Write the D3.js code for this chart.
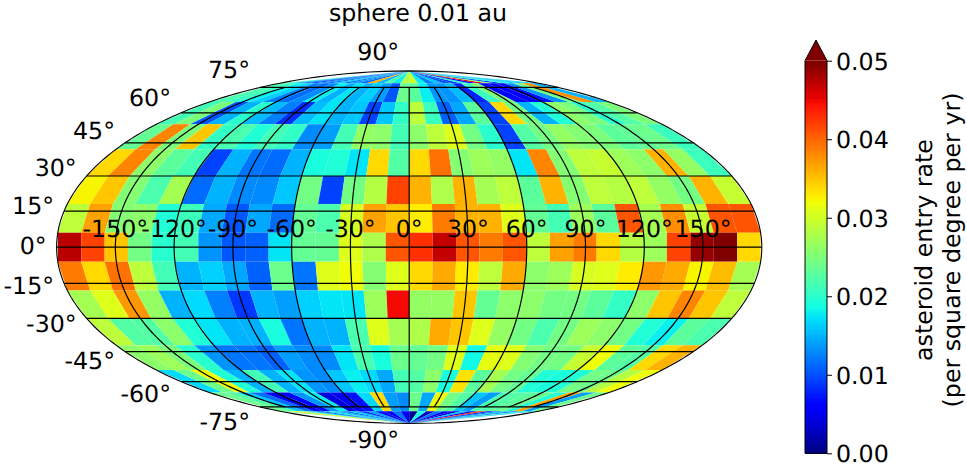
<!DOCTYPE html>
<html><head><meta charset="utf-8">
<script src="https://cdn.jsdelivr.net/npm/d3@7/dist/d3.min.js"></script>
<style>html,body{margin:0;padding:0;background:#fff}svg{display:block}text{font-family:"DejaVu Sans";fill:#000;text-rendering:geometricPrecision}</style>
</head><body><svg id="c" width="967" height="466"></svg>
<script>
const titleText = "sphere 0.01 au";
const cbarLines = ["asteroid entry rate", "(per square degree per yr)"];
const lonEdges = d3.range(-180, 181, 12);
const latEdges = d3.range(90, -91, -12);
const lonTicks = [-150,-120,-90,-60,-30,0,30,60,90,120,150];
const latTicks = [90,75,60,45,30,15,0,-15,-30,-45,-60,-75,-90];
const cbarTicks = [0,0.01,0.02,0.03,0.04,0.05];
const rowN84 = [.022,.016,.012,.009,.014,.011,.017,.012,.014,.011,.036,.015,.022,.018,.028, .03,.018,.0125,.016,.01,.0095,.02,.006,.045,.025,.008,.019,.017,.015,.017];
const rowN72 = [.022,.021,.018,.0165,.0125,.0115,.013,.018,.015,.0175,.015,.0165,.014,.0105,.024, .023,.018,.0135,.0135,.0155,.008,.021,.025,.006,.006,.007,.0135,.0245,.038,.015];
const rowN60 = [.0215,.025,.0105,.015,.02,.0155,.0125,.0085,.0155,.0175,.015,.016,.0095,.016,.0205, .029,.021,.011,.0145,.023,.0095,.034,.0245,.015,.0195,.026,.025,.02,.0225,.025];
const rowN48 = [.0235,.0385,.025,.035,.0205,.022,.0195,.0215,.0205,.013,.014,.0215,.0265,.026,.0215, .026,.029,.031,.0245,.02,.0095,.0225,.0245,.0265,.0255,.025,.023,.0235,.024,.021];
const rowN36 = [.034,.0385,.026,.023,.0215,.0095,.015,.012,.0115,.015,.019,.0195,.0175,.034,.0225, .034,.0395,.0255,.027,.0265,.0175,.0385,.0255,.029,.0295,.027,.026,.036,.0265,.021];
const rowN24 = [.0325,.035,.0255,.022,.0275,.0115,.015,.013,.013,.016,.0245,.0095,.0245,.0285,.042, .036,.028,.036,.0275,.029,.023,.036,.0255,.029,.0285,.029,.0265,.0245,.036,.0295];
const rowN12 = [.029,.037,.0255,.026,.0195,.021,.0145,.0105,.0145,.0115,.0235,.022,.0305,.037,.035, .033,.039,.036,.036,.031,.0235,.0215,.027,.023,.041,.0275,.038,.0295,.041,.041];
const rowE00 = [.0475,.042,.035,.0245,.02,.0215,.0135,.0105,.011,.0175,.0235,.0235,.031,.028,.041, .043,.047,.041,.039,.041,.029,.037,.039,.034,.0285,.027,.042,.049,.0505,.034];
const rowS12 = [.039,.034,.0395,.029,.0215,.015,.0165,.0145,.011,.024,.012,.031,.032,.0255,.031, .034,.0365,.033,.029,.0365,.026,.027,.0305,.031,.033,.0375,.0365,.0325,.0355,.0275];
const rowS24 = [.0275,.031,.0375,.0265,.015,.017,.0125,.009,.015,.014,.0165,.0175,.0175,.027,.045, .0265,.0265,.035,.0235,.026,.026,.0245,.0245,.023,.0205,.026,.035,.0385,.035,.029];
const rowS36 = [.029,.0225,.0225,.026,.0195,.0175,.015,.015,.019,.012,.015,.015,.022,.031,.0275, .028,.0365,.035,.031,.0265,.0245,.022,.0245,.027,.026,.0245,.0195,.018,.023,.022];
const rowS48 = [.026,.027,.025,.02,.0135,.012,.012,.011,.014,.013,.013,.0175,.022,.019,.024, .0235,.0245,.031,.0185,.0315,.031,.0255,.0245,.0245,.0295,.032,.023,.0225,.034,.036];
const rowS60 = [.017,.024,.032,.0195,.015,.0215,.015,.0175,.0135,.013,.016,.018,.017,.0145,.0215, .0225,.026,.019,.0335,.023,.0275,.0245,.0235,.0195,.019,.0195,.0245,.024,.0285,.032];
const rowS72 = [.024,.0225,.016,.0115,.005,.0055,.0135,.018,.004,.005,.007,.017,.034,.014,.013, .024,.0145,.032,.0245,.0225,.016,.014,.022,.0225,.023,.024,.0195,.037,.014,.024];
const rowS84 = [.024,.033,.025,.016,.011,.018,.015,.012,.016,.009,.014,.006,.0055,.012,.005, .001,.019,.003,.012,.006,.004,.016,.006,.042,.008,.012,.017,.012,.02,.016];
const rows = [rowN84,rowN72,rowN60,rowN48,rowN36,rowN24,rowN12,rowE00,rowS12,rowS24,rowS36,rowS48,rowS60,rowS72,rowS84];

const svg = d3.select("#c");
const FS = 23.7, CX = 409.2, CY = 247.2, RX = 352.6;

// Mollweide, built on d3.geoProjection
function mollweideRaw(l, p){
  let t = p;
  if (Math.abs(Math.abs(p) - Math.PI/2) < 1e-9) t = p;
  else for (let i=0;i<60;i++){
    const d = (2*t + Math.sin(2*t) - Math.PI*Math.sin(p)) / (2 + 2*Math.cos(2*t));
    t -= d; if (Math.abs(d) < 1e-10) break;
  }
  return [2*Math.SQRT2/Math.PI * l * Math.cos(t), Math.SQRT2 * Math.sin(t)];
}
const proj = d3.geoProjection(mollweideRaw).scale(RX/(2*Math.SQRT2)).translate([CX,CY]).precision(0.1);

// jet colormap
const rCh = d3.scaleLinear().domain([0,.35,.66,.89,1]).range([0,0,1,1,.5]);
const gCh = d3.scaleLinear().domain([0,.125,.375,.64,.91,1]).range([0,0,1,1,0,0]);
const bCh = d3.scaleLinear().domain([0,.11,.34,.65,1]).range([.5,1,1,0,0]);
const norm = d3.scaleLinear().domain([0,0.05]).range([0,1]).clamp(true);
const jet = t => d3.rgb(rCh(t)*255, gCh(t)*255, bCh(t)*255).formatHex();
const color = v => jet(norm(v));

// cells: straight quads between projected corners
const cells = [];
rows.forEach((r,i)=>r.forEach((v,j)=>cells.push({i,j,v})));
const line = d3.line();
svg.append("g").selectAll("path").data(cells).join("path")
  .attr("d", d => line([
      proj([lonEdges[d.j],  latEdges[d.i]]),
      proj([lonEdges[d.j+1],latEdges[d.i]]),
      proj([lonEdges[d.j+1],latEdges[d.i+1]]),
      proj([lonEdges[d.j],  latEdges[d.i+1]])]) + "Z")
  .attr("fill", d => color(d.v));

// graticule
const grid = svg.append("g").attr("fill","none").attr("stroke","#000").attr("stroke-width",1.2);
latTicks.filter(l=>Math.abs(l)<90).forEach(l=>{
  const a = proj([-180,l]), b = proj([180,l]);
  grid.append("path").attr("d", line([a,b]));
});
lonTicks.forEach(l=>{
  grid.append("path").attr("d", line(d3.range(-75,75.01,1).map(p=>proj([l,p]))));
});
// outline
const outlinePts = d3.range(-90,90.01,1).map(p=>proj([-180,p])).concat(d3.range(90,-90.01,-1).map(p=>proj([180,p])));
svg.append("path").attr("d", d3.line().curve(d3.curveLinearClosed)(outlinePts)).attr("fill","none").attr("stroke","#000").attr("stroke-width",1.1);

// labels
svg.append("g").selectAll("text").data(lonTicks).join("text")
  .attr("x", d=>proj([d,0])[0]).attr("y", CY-10).attr("text-anchor","middle")
  .attr("font-size",FS).text(d=>d+"°");
svg.append("g").selectAll("text").data(latTicks).join("text")
  .attr("x", d=>proj([-180,d])[0]-10).attr("y", d=>CY+1.1*(proj([-180,d])[1]-CY)+6.8).attr("text-anchor","end")
  .attr("font-size",FS).text(d=>d+"°");
svg.append("text").attr("x",418).attr("y",21).attr("text-anchor","middle").attr("font-size",FS).text(titleText);

// colourbar
const cbY = d3.scaleLinear().domain([0,0.05]).range([453.3,60.7]);
const cbL = 805, cbR = 827, cbTip = 40;
const cb = svg.append("g");
const steps = d3.range(256);
cb.selectAll("rect").data(steps).join("rect")
  .attr("x",cbL).attr("width",cbR-cbL).attr("shape-rendering","crispEdges")
  .attr("y",d=>cbY((d+1)/256*0.05)).attr("height",d=>cbY(d/256*0.05)-cbY((d+1)/256*0.05)+1)
  .attr("fill",d=>jet(d/255));
const outlineCb = [[cbL,cbY(0)],[cbR,cbY(0)],[cbR,cbY(0.05)],[(cbL+cbR)/2,cbTip],[cbL,cbY(0.05)]];
cb.append("path").attr("d",line([outlineCb[2],outlineCb[3],outlineCb[4]])+"Z").attr("fill",jet(1));
cb.append("path").attr("d",line(outlineCb)+"Z").attr("fill","none").attr("stroke","#000").attr("stroke-width",1);
const ax = d3.axisRight(cbY).tickValues(cbarTicks).tickSize(5).tickPadding(4).tickFormat(d3.format(".2f"));
const axG = svg.append("g").attr("transform",`translate(${cbR},0)`).call(ax);
axG.select(".domain").remove();
axG.selectAll("text").attr("font-size",FS).attr("font-family","DejaVu Sans").attr("dy","0.36em");
axG.selectAll("line").attr("stroke","#000");
const lx = [932, 960];
cbarLines.forEach((s,i)=>{
  svg.append("text").attr("transform",`translate(${lx[i]},250) rotate(-90)`).attr("text-anchor","middle").attr("font-size",FS).text(s);
});
</script></body></html>
